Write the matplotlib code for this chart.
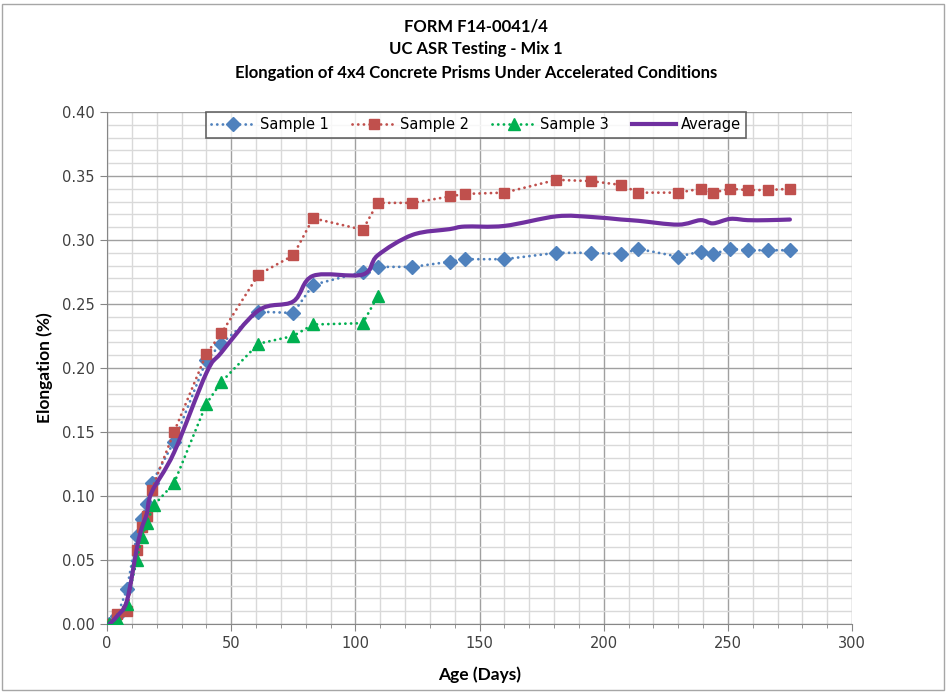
import matplotlib
matplotlib.use("Agg")
import matplotlib.pyplot as plt
from matplotlib.path import Path
from matplotlib.patches import PathPatch, Rectangle
from matplotlib.lines import Line2D
from matplotlib.ticker import MultipleLocator
import numpy as np

# ── data ─────────────────────────────────────────────────────────────────────
days = [1, 4, 8, 12, 14, 16, 18, 27, 40, 46, 61, 75, 83, 103, 109,
        123, 138, 144, 160, 181, 195, 207, 214, 230, 239, 244, 251, 258, 266, 275]
sample1 = [0.000, 0.006, 0.027, 0.069, 0.082, 0.094, 0.110, 0.1425, 0.206, 0.219,
           0.244, 0.243, 0.265, 0.275, 0.279,
           0.279, 0.283, 0.285, 0.285, 0.290, 0.290, 0.289, 0.293, 0.287,
           0.291, 0.289, 0.293, 0.292, 0.292, 0.292]
sample2 = [0.000, 0.008, 0.010, 0.058, 0.076, 0.084, 0.105, 0.150, 0.211, 0.227,
           0.273, 0.288, 0.317, 0.308, 0.329,
           0.329, 0.334, 0.336, 0.337, 0.347, 0.346, 0.343, 0.337, 0.337,
           0.340, 0.337, 0.340, 0.339, 0.339, 0.340]
days3 = [1, 4, 8, 12, 14, 16, 19, 27, 40, 46, 61, 75, 83, 103, 109]
sample3 = [0.000, 0.004, 0.016, 0.050, 0.068, 0.079, 0.093, 0.110, 0.172, 0.189,
           0.219, 0.225, 0.234, 0.235, 0.256]
average = [0.000, 0.006, 0.018, 0.059, 0.075, 0.086, 0.103, 0.134, 0.196, 0.212,
           0.245, 0.252, 0.272, 0.273, 0.288,
           0.304, 0.3085, 0.3105, 0.311, 0.3185, 0.318, 0.316, 0.315, 0.312,
           0.3155, 0.313, 0.3165, 0.3155, 0.3155, 0.316]

BLUE, RED, GREEN, PURPLE = "#4F81BD", "#C0504D", "#00B050", "#7030A0"
TXT = ["Lato", "DejaVu Sans"]

fig = plt.figure(figsize=(9.48, 6.92), dpi=100)
ax = fig.add_axes([107/948, 1 - 624/692, 745/948, 512/692])

# grid: minor light, major darker
ax.xaxis.set_major_locator(MultipleLocator(50))
ax.xaxis.set_minor_locator(MultipleLocator(10))
ax.yaxis.set_major_locator(MultipleLocator(0.05))
ax.yaxis.set_minor_locator(MultipleLocator(0.01))
ax.grid(which="minor", color="#D9D9D9", lw=1.0)
ax.grid(which="major", color="#A0A0A0", lw=1.0)
ax.set_axisbelow(True)

dot = (0, (0.05, 2.0))
kw = dict(ls=dot, lw=2.0, dash_capstyle="round", zorder=3)
ax.plot(days, sample1, color=BLUE, marker="D", ms=7, label="Sample 1", **kw)
ax.plot(days, sample2, color=RED, marker="s", ms=7.5, label="Sample 2", **kw)
ax.plot(days3, sample3, color=GREEN, marker="^", ms=8.5, label="Sample 3", **kw)

# excel-style smoothed average (bezier through the nodes)
pts = np.column_stack([days, average])
verts, codes = [pts[0]], [Path.MOVETO]
for i in range(len(pts) - 1):
    p0 = pts[max(i - 1, 0)]
    p1, p2 = pts[i], pts[i + 1]
    p3 = pts[min(i + 2, len(pts) - 1)]
    verts += [p1 + (p2 - p0) / 6, p2 - (p3 - p1) / 6, p2]
    codes += [Path.CURVE4] * 3
ax.add_patch(PathPatch(Path(verts, codes), fill=False, edgecolor=PURPLE,
                       lw=3.0, capstyle="round", zorder=4))

ax.set_xlim(0, 300)
ax.set_ylim(0, 0.40)
ax.set_yticks(np.arange(0, 0.401, 0.05))
ax.set_yticklabels([f"{v:.2f}" for v in np.arange(0, 0.401, 0.05)])
for s in ["top", "right"]:
    ax.spines[s].set_visible(False)
for s in ["left", "bottom"]:
    ax.spines[s].set_color("#868686")
ax.tick_params(which="major", length=5, color="#868686", labelsize=10.5,
               labelcolor="#404040", pad=4)
ax.tick_params(axis="y", which="minor", length=0)
ax.tick_params(axis="x", which="minor", length=3, color="#868686")

ax.set_xlabel("Age (Days)", fontsize=12.5, fontweight="bold", family=TXT, labelpad=11)
ax.set_ylabel("Elongation (%)", fontsize=12.5, fontweight="bold", family=TXT, labelpad=6)

for y, t in [(27, "FORM F14-0041/4"), (49, "UC ASR Testing - Mix 1"),
             (73, "Elongation of 4x4 Concrete Prisms Under Accelerated Conditions")]:
    fig.text(476/948, 1 - y/692, t, ha="center", va="center", fontsize=12,
             fontweight="bold", family=TXT)

handles = [
    Line2D([], [], color=BLUE, marker="D", ms=7, **kw),
    Line2D([], [], color=RED, marker="s", ms=7.5, **kw),
    Line2D([], [], color=GREEN, marker="^", ms=8.5, **kw),
    Line2D([], [], color=PURPLE, lw=3.0),
]
leg = fig.legend(handles, ["Sample 1", "Sample 2", "Sample 3", "Average"],
                 loc="center", bbox_to_anchor=(476/948, 1 - 125/692), ncol=4,
                 fontsize=10.5, frameon=True, fancybox=False, handlelength=3.0,
                 columnspacing=1.6, handletextpad=0.3, borderpad=0.35,
                 borderaxespad=0)
leg.get_frame().set_edgecolor("#404040")
leg.get_frame().set_linewidth(1.2)

fig.patches.append(Rectangle((2/948, 2/692), 942/948, 686/692, transform=fig.transFigure,
                             fill=False, edgecolor="#A6A6A6", lw=1.0))

fig.savefig("out.png", dpi=100)
